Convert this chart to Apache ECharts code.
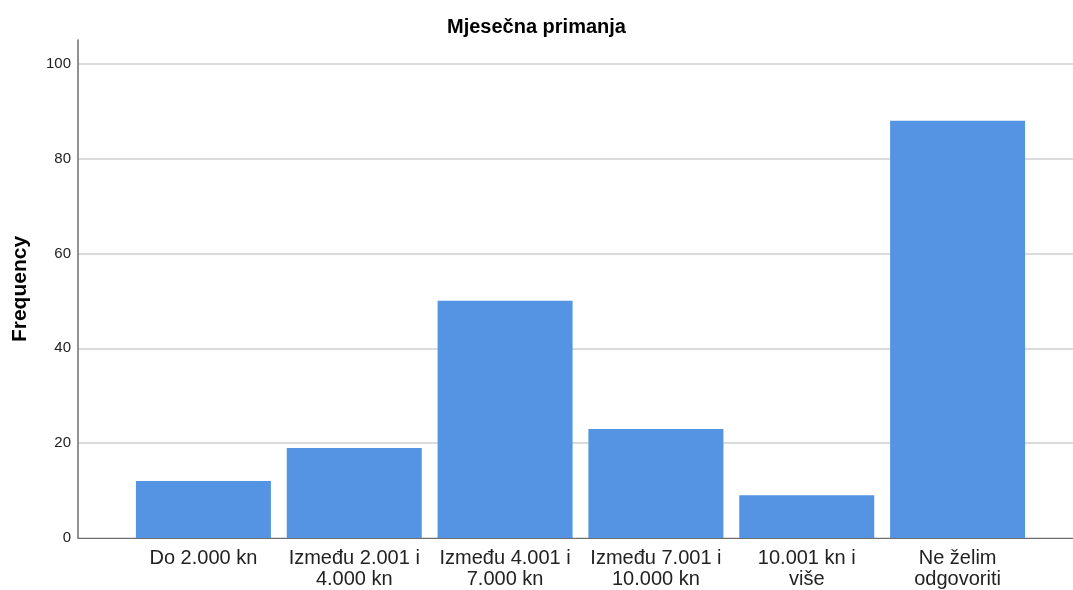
<!DOCTYPE html>
<html>
<head>
<meta charset="utf-8">
<script src="https://cdn.jsdelivr.net/npm/echarts@6/dist/echarts.min.js"></script>
<style>
  html, body { margin: 0; padding: 0; background: #fff; }
  #chart { width: 1073px; height: 590px; }
</style>
</head>
<body>
<div id="chart"></div>
<script>
var categories = ['Do 2.000 kn', 'Između 2.001 i\n4.000 kn', 'Između 4.001 i\n7.000 kn',
    'Između 7.001 i\n10.000 kn', '10.001 kn i\nviše', 'Ne želim\nodgovoriti'];
var frequency = [12, 19, 50, 23, 9, 88];
var yTicks = [0, 20, 40, 60, 80, 100];

var font = 'Liberation Sans, Arial, sans-serif';
var chart = echarts.init(document.getElementById('chart'));
var option = {
    animation: false,
    title: {
        text: 'Mjesečna primanja',
        left: 'center',
        top: 12,
        textStyle: { fontFamily: font, fontSize: 20, fontWeight: 'bold', color: '#000' }
    },
    grid: [
        { left: 78, right: 0, top: 40, bottom: 52, outerBoundsMode: 'none', containLabel: false },
        { left: 128, right: 40, top: 40, bottom: 52, outerBoundsMode: 'none', containLabel: false }
    ],
    xAxis: [
        {
            gridIndex: 0, type: 'category', data: [''],
            axisLine: { lineStyle: { color: '#6e6e6e', width: 1 } },
            axisTick: { show: false }, axisLabel: { show: false }
        },
        {
            gridIndex: 1, type: 'category', data: categories,
            axisLine: { show: false }, axisTick: { show: false },
            axisLabel: {
                interval: 0, margin: 10, fontFamily: font, fontSize: 20,
                lineHeight: 21, color: '#222'
            }
        }
    ],
    yAxis: [
        {
            gridIndex: 0, type: 'value', min: 0, max: 105, interval: 20,
            name: 'Frequency', nameLocation: 'middle', nameGap: 47,
            nameTextStyle: { fontFamily: font, fontSize: 21, fontWeight: 'bold', color: '#000' },
            axisLine: { show: true, lineStyle: { color: '#6e6e6e', width: 1.5 } },
            axisTick: { show: false },
            axisLabel: {
                margin: 7, fontFamily: font, fontSize: 15, color: '#222',
                formatter: function (v) { return yTicks.indexOf(v) >= 0 ? String(v) : ''; }
            },
            splitLine: { showMaxLine: false, lineStyle: { color: '#cfcfcf', width: 1.5 } }
        },
        {
            gridIndex: 1, type: 'value', min: 0, max: 105, interval: 20,
            axisLine: { show: false }, axisTick: { show: false },
            axisLabel: { show: false }, splitLine: { show: false }
        }
    ],
    series: [{
        type: 'bar',
        xAxisIndex: 1,
        yAxisIndex: 1,
        data: frequency,
        barWidth: 135,
        itemStyle: { color: '#5594e2' }
    }]
};
chart.setOption(option);
</script>
</body>
</html>
